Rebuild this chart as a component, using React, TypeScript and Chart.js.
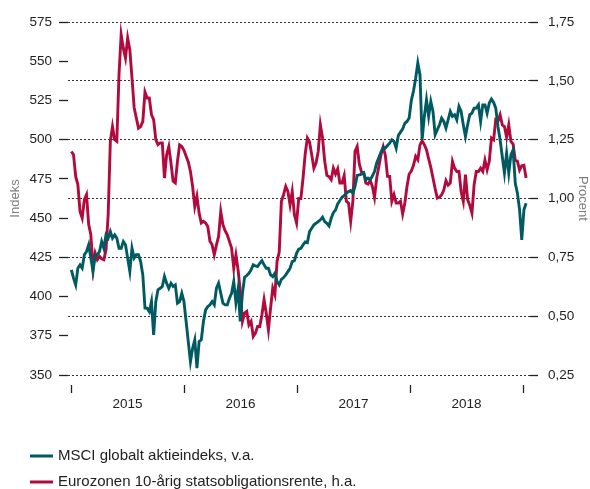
import { useEffect, useRef } from 'react';
import { Chart, registerables } from 'chart.js';

Chart.register(...registerables);

// ---------- data ----------
const seriesLabels = [
  'MSCI globalt aktieindeks, v.a.',
  'Eurozonen 10-årig statsobligationsrente, h.a.',
];
const leftAxisTitle = 'Indeks';
const rightAxisTitle = 'Procent';
const yearBoundaries = [2015, 2016, 2017, 2018, 2019];
const yearLabels = [2015, 2016, 2017, 2018];
const leftTicks = [350, 375, 400, 425, 450, 475, 500, 525, 550, 575];
const rightTicks = [0.25, 0.5, 0.75, 1.0, 1.25, 1.5, 1.75];

// weekly observations, first one on 2 Jan 2015
const firstObsYear = 2015 + 1 / 365.25;

const msci = [
  417.0, 411.7, 407.4, 418.1, 420.2, 418.1, 426.6, 428.7, 433.0, 424.5,
  416.0, 426.6, 426.6, 428.7, 435.1, 430.8, 439.3, 437.2, 441.5, 437.2,
  439.3, 437.2, 430.8, 430.8, 435.1, 433.0, 424.5, 416.0, 430.8, 424.5,
  426.6, 426.6, 422.3, 413.8, 392.6, 392.6, 390.4, 396.8, 375.5, 396.8,
  404.3, 405.3, 406.4, 412.8, 408.5, 405.3, 408.5, 406.4, 407.4, 395.8,
  396.8, 402.1, 396.8, 384.1, 371.3, 358.5, 367.0, 372.4, 354.3, 371.3,
  372.4, 384.1, 391.5, 393.6, 394.7, 396.8, 394.7, 405.3, 408.5, 402.1,
  395.8, 394.7, 394.7, 398.9, 402.1, 409.6, 396.0, 405.0, 384.1, 402.0,
  412.3, 413.4, 414.8, 417.0, 420.2, 419.5, 419.1, 421.2, 422.9, 420.2,
  418.0, 418.0, 413.8, 412.7, 414.8, 409.5, 407.4, 411.0, 412.1, 413.8,
  415.9, 418.0, 422.3, 422.9, 427.6, 430.2, 430.8, 432.9, 434.8, 434.4,
  441.4, 443.5, 445.7, 446.7, 447.8, 448.9, 450.6, 447.8, 446.7, 445.0,
  449.9, 453.5, 455.2, 459.1, 461.2, 463.3, 464.4, 465.9, 466.9, 467.6,
  465.9, 470.2, 477.2, 477.6, 478.0, 478.9, 474.4, 475.5, 474.4, 476.8,
  479.7, 485.1, 488.7, 492.1, 495.1, 494.6, 496.3, 497.8, 499.9, 498.9,
  494.6, 502.7, 504.8, 506.8, 510.4, 511.6, 513.8, 525.0, 531.0, 539.0,
  548.9, 541.4, 500.0, 514.8, 525.4, 514.8, 524.4, 518.0, 503.1, 506.3,
  509.5, 513.7, 511.6, 507.4, 512.7, 518.0, 514.8, 515.9, 512.7, 521.2,
  518.0, 509.5, 502.0, 509.5, 515.9, 516.9, 520.1, 520.1, 522.2, 511.6,
  522.2, 522.2, 516.9, 523.3, 525.9, 523.7, 520.1, 508.4, 499.9, 489.3,
  478.7, 491.4, 478.7, 490.3, 493.5, 472.3, 465.9, 455.3, 436.1, 455.3,
  459.5,
];

const eurozoneYield = [
  1.200, 1.186, 1.094, 1.059, 0.945, 0.917, 0.995, 1.016, 0.889, 0.846,
  0.704, 0.768, 0.740, 0.754, 0.744, 0.740, 0.782, 0.931, 1.243, 1.306,
  1.250, 1.243, 1.526, 1.696, 1.639, 1.597, 1.682, 1.632, 1.512, 1.387,
  1.342, 1.299, 1.306, 1.328, 1.452, 1.427, 1.427, 1.356, 1.335, 1.250,
  1.229, 1.236, 1.236, 1.087, 1.186, 1.221, 1.151, 1.073, 1.066, 1.158,
  1.228, 1.221, 1.205, 1.180, 1.155, 1.115, 1.051, 0.966, 1.009, 0.938,
  0.896, 0.903, 0.896, 0.881, 0.818, 0.803, 0.761, 0.803, 0.839, 0.945,
  0.889, 0.863, 0.846, 0.818, 0.789, 0.704, 0.761, 0.697, 0.605, 0.478,
  0.513, 0.520, 0.463, 0.478, 0.414, 0.428, 0.456, 0.456, 0.506, 0.570,
  0.513, 0.442, 0.534, 0.619, 0.591, 0.733, 0.772, 0.988, 1.016, 1.051,
  1.030, 0.973, 1.030, 0.931, 0.896, 1.000, 1.000, 1.087, 1.190, 1.257,
  1.240, 1.186, 1.129, 1.151, 1.200, 1.313, 1.257, 1.158, 1.098, 1.093,
  1.080, 1.129, 1.104, 1.126, 1.066, 1.066, 1.098, 0.988, 0.981, 0.903,
  0.988, 1.200, 1.221, 1.146, 1.112, 1.110, 1.066, 1.061, 1.077, 1.051,
  1.005, 1.087, 1.136, 1.186, 1.220, 1.183, 1.094, 1.094, 0.988, 1.016,
  0.981, 0.981, 0.988, 0.934, 0.981, 1.051, 1.104, 1.117, 1.141, 1.179,
  1.165, 1.228, 1.245, 1.229, 1.207, 1.169, 1.132, 1.087, 1.042, 1.002,
  1.005, 1.016, 1.036, 1.076, 1.057, 1.066, 1.158, 1.129, 1.115, 1.115,
  1.030, 0.988, 1.101, 0.995, 0.971, 0.938, 1.059, 1.115, 1.115, 1.129,
  1.115, 1.163, 1.122, 1.158, 1.257, 1.250, 1.335, 1.328, 1.356, 1.313,
  1.306, 1.260, 1.313, 1.243, 1.231, 1.163, 1.158, 1.121, 1.139, 1.141,
  1.087,
];

// ---------- style ----------
const TEAL = '#005a62';
const RED = '#b20a3d';
const FONT = "'Liberation Sans', Arial, sans-serif";
const TEXT = '#222222';

const W = 590;
const H = 489;

const weekX = (i: number) => firstObsYear + (7 * i) / 365.25;

export default function App() {
  const ref = useRef<HTMLCanvasElement | null>(null);

  useEffect(() => {
    if (!ref.current) return;

    const decorations = {
      id: 'decorations',
      afterDraw(chart: any) {
        const { ctx, chartArea, scales } = chart;
        ctx.save();
        // year boundary tick marks
        ctx.strokeStyle = TEXT;
        ctx.lineWidth = 1.3;
        yearBoundaries.forEach((yr) => {
          const px = Math.round(scales.x.getPixelForValue(yr)) + 0.5;
          ctx.beginPath();
          ctx.moveTo(px, chartArea.bottom + 10);
          ctx.lineTo(px, chartArea.bottom + 18);
          ctx.stroke();
        });
        // legend
        const rows = [
          { label: seriesLabels[0], color: TEAL, y: 456 },
          { label: seriesLabels[1], color: RED, y: 482 },
        ];
        ctx.font = `15px ${FONT}`;
        ctx.textBaseline = 'middle';
        ctx.textAlign = 'left';
        rows.forEach((r) => {
          ctx.fillStyle = r.color;
          ctx.fillRect(30, r.y - 1.5, 23, 3);
          ctx.fillStyle = TEXT;
          ctx.fillText(r.label, 58, r.y);
        });
        ctx.restore();
      },
    };

    const chart = new Chart(ref.current, {
      type: 'line',
      data: {
        datasets: [
          {
            label: seriesLabels[0],
            data: msci.map((v, i) => ({ x: weekX(i), y: v })),
            borderColor: TEAL,
            backgroundColor: TEAL,
            borderWidth: 2.9,
            pointRadius: 0,
            tension: 0,
            yAxisID: 'y',
          },
          {
            label: seriesLabels[1],
            data: eurozoneYield.map((v, i) => ({ x: weekX(i), y: v })),
            borderColor: RED,
            backgroundColor: RED,
            borderWidth: 2.9,
            pointRadius: 0,
            tension: 0,
            yAxisID: 'y2',
          },
        ],
      },
      options: {
        animation: false,
        responsive: false,
        maintainAspectRatio: false,
        layout: { padding: { top: 22, left: 0, right: 0, bottom: 0 } },
        plugins: {
          legend: { display: false },
          tooltip: { enabled: false },
        },
        scales: {
          x: {
            type: 'linear',
            min: 2014.973,
            max: 2019.062,
            afterBuildTicks: (s: any) => {
              s.ticks = yearLabels.map((y) => ({ value: y + 0.5 }));
            },
            afterFit: (s: any) => {
              s.height = H - 375;
            },
            grid: { display: false, drawTicks: false },
            border: { display: false },
            ticks: {
              autoSkip: false,
              maxRotation: 0,
              padding: 21,
              color: TEXT,
              font: { family: FONT, size: 13.5 },
              callback: (v: any) => String(Math.floor(Number(v))),
            },
          },
          y: {
            type: 'linear',
            position: 'left',
            min: 350,
            max: 575,
            afterBuildTicks: (s: any) => {
              s.ticks = leftTicks.map((v) => ({ value: v }));
            },
            afterFit: (s: any) => {
              s.width = 68;
            },
            grid: {
              drawOnChartArea: false,
              drawTicks: true,
              tickLength: 9,
              tickColor: TEXT,
              tickWidth: 1.3,
            },
            border: { display: false },
            ticks: {
              padding: 7,
              color: TEXT,
              font: { family: FONT, size: 13.5 },
            },
            title: {
              display: true,
              text: leftAxisTitle,
              color: '#7d7d7d',
              font: { family: FONT, size: 13 },
              padding: { top: 8, bottom: 0 },
            },
          },
          y2: {
            type: 'linear',
            position: 'right',
            min: 0.25,
            max: 1.75,
            afterBuildTicks: (s: any) => {
              s.ticks = rightTicks.map((v) => ({ value: v }));
            },
            afterFit: (s: any) => {
              s.width = W - 530;
            },
            grid: {
              drawOnChartArea: true,
              drawTicks: true,
              color: '#333333',
              lineWidth: 1,
              tickLength: 8,
              tickColor: TEXT,
              tickWidth: 1.3,
              tickBorderDash: [],
            },
            border: { display: false, dash: [2, 2] },
            ticks: {
              padding: 10,
              color: TEXT,
              font: { family: FONT, size: 13.5 },
              callback: (v: any) => Number(v).toFixed(2).replace('.', ','),
            },
            title: {
              display: true,
              text: rightAxisTitle,
              color: '#7d7d7d',
              font: { family: FONT, size: 13 },
              padding: { top: 0, bottom: 0 },
            },
          },
        },
      },
      plugins: [decorations],
    } as any);

    return () => chart.destroy();
  }, []);

  return (
    <div style={{ position: 'absolute', left: 0, top: 0, width: W, height: H, background: '#fff' }}>
      <canvas ref={ref} width={W} height={H} style={{ width: W, height: H, display: 'block' }} />
    </div>
  );
}
